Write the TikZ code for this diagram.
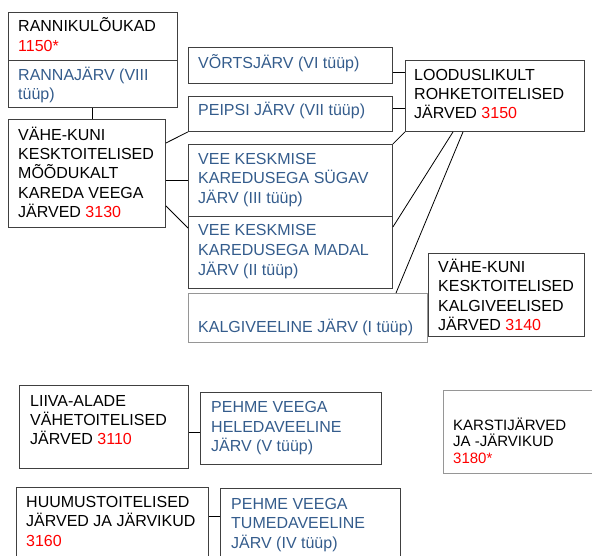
\documentclass[tikz,border=0pt]{standalone}
\usepackage{fontspec}
\setmainfont{Liberation Sans}
\definecolor{lakeblue}{RGB}{52,92,140}
\definecolor{boxline}{RGB}{64,64,64}
\definecolor{lightline}{RGB}{150,150,150}
\begin{document}
\begin{tikzpicture}[x=1pt,y=-1pt,
  box/.style={draw=boxline,line width=0.9pt,rectangle,inner sep=0pt,anchor=north west},
  lbox/.style={box,draw=lightline},
  txt/.style={anchor=north west,inner sep=0pt,align=left,font=\fontsize{16}{19.3}\selectfont},
  btxt/.style={txt,text=lakeblue,font=\fontsize{16}{19.6}\selectfont},
  conn/.style={draw=black,line width=0.8pt}]
\useasboundingbox (0,0) rectangle (592,555);
\begin{scope}
\clip (0,0) rectangle (592,555);
% boxes
\node[box,minimum width=169pt,minimum height=48pt] (rannik) at (8,12) {};
\node[box,minimum width=169pt,minimum height=47pt] (ranna) at (8,60) {};
\node[box,minimum width=157pt,minimum height=108pt] (v3130) at (8,119) {};
\node[box,minimum width=204pt,minimum height=36pt] (vorts) at (188,47) {};
\node[box,minimum width=204pt,minimum height=35pt] (peipsi) at (188,96) {};
\node[box,minimum width=204pt,minimum height=72pt] (sugav) at (188,144) {};
\node[box,minimum width=204pt,minimum height=72pt] (madal) at (188,216) {};
\node[lbox,minimum width=239pt,minimum height=49pt] (kalgi) at (188,293) {};
\node[box,minimum width=179pt,minimum height=71pt] (loodus) at (405,60) {};
\node[box,minimum width=156pt,minimum height=83pt] (v3140) at (428,253) {};
\node[box,minimum width=169pt,minimum height=83pt] (liiva) at (19,385) {};
\node[box,minimum width=181pt,minimum height=72pt] (heleda) at (200,392) {};
\node[box,minimum width=192pt,minimum height=90pt] (huumus) at (16,487) {};
\node[box,minimum width=180pt,minimum height=90pt] (tumeda) at (220,488) {};
\node[lbox,minimum width=170pt,minimum height=83pt] (karsti) at (443,390) {};
% texts
\node[txt] (rannik-t) at (18,15.7) {\rule{0pt}{16pt}RANNIKULÕUKAD\\\textcolor{red}{1150*}};
\node[btxt] (ranna-t) at (18,64) {\rule{0pt}{16pt}RANNAJÄRV (VIII\\tüüp)};
\node[txt] (v3130-t) at (18,124) {\rule{0pt}{16pt}VÄHE-KUNI\\KESKTOITELISED\\MÕÕDUKALT\\KAREDA VEEGA\\JÄRVED \textcolor{red}{3130}};
\node[btxt] (vorts-t) at (198,52.3) {\rule{0pt}{16pt}VÕRTSJÄRV (VI tüüp)};
\node[btxt] (peipsi-t) at (198,99) {\rule{0pt}{16pt}PEIPSI JÄRV (VII tüüp)};
\node[btxt] (sugav-t) at (198,148) {\rule{0pt}{16pt}VEE KESKMISE\\KAREDUSEGA SÜGAV\\JÄRV (III tüüp)};
\node[btxt] (madal-t) at (198,219.7) {\rule{0pt}{16pt}VEE KESKMISE\\KAREDUSEGA MADAL\\JÄRV (II tüüp)};
\node[btxt] (kalgi-t) at (198,316.7) {\rule{0pt}{16pt}KALGIVEELINE JÄRV (I tüüp)};
\node[txt] (loodus-t) at (414,64) {\rule{0pt}{16pt}LOODUSLIKULT\\ROHKETOITELISED\\JÄRVED \textcolor{red}{3150}};
\node[txt] (v3140-t) at (438,256.3) {\rule{0pt}{16pt}VÄHE-KUNI\\KESKTOITELISED\\KALGIVEELISED\\JÄRVED \textcolor{red}{3140}};
\node[txt] (liiva-t) at (30,390) {\rule{0pt}{16pt}LIIVA-ALADE\\VÄHETOITELISED\\JÄRVED \textcolor{red}{3110}};
\node[btxt] (heleda-t) at (211,396.3) {\rule{0pt}{16pt}PEHME VEEGA\\HELEDAVEELINE\\JÄRV (V tüüp)};
\node[txt] (huumus-t) at (26,491.3) {\rule{0pt}{16pt}HUUMUSTOITELISED\\JÄRVED JA JÄRVIKUD\\\textcolor{red}{3160}};
\node[btxt] (tumeda-t) at (231,493) {\rule{0pt}{16pt}PEHME VEEGA\\TUMEDAVEELINE\\JÄRV (IV tüüp)};
\node[txt,font=\fontsize{15}{16.7}\selectfont] (karsti-t) at (453,414) {\rule{0pt}{16pt}KARSTIJÄRVED\\JA -JÄRVIKUD\\\textcolor{red}{3180*}};
\end{scope}
% connectors
\draw[conn] ([xshift=-0.5pt]ranna.south) coordinate (c0) -- (c0 |- v3130.north);
\draw[conn] ([yshift=-24pt]v3130.north east) -- (peipsi.south west);
\draw[conn] (v3130.east |- sugav.west) -- (sugav.west);
\draw[conn] ([yshift=22pt]v3130.south east) -- ([yshift=-12pt]madal.north west);
\draw[conn] ([yshift=-7pt]vorts.east) coordinate (c1) -- (c1 -| loodus.west);
\draw[conn] ([yshift=5.5pt]peipsi.east) coordinate (c2) -- (c2 -| loodus.west);
\draw[conn] (sugav.north east) -- (loodus.south west);
\draw[conn] ([xshift=48pt]loodus.south west) -- ([yshift=-11pt]madal.north east);
\draw[conn] ([xshift=58pt]loodus.south west) -- ([xshift=208pt]kalgi.north west);
\draw[conn] ([yshift=-4pt]heleda.west) coordinate (c3) -- (c3 -| liiva.east);
\draw[conn] ([yshift=-28pt]tumeda.north west) coordinate (c4) -- (c4 -| huumus.east);
\end{tikzpicture}
\end{document}
